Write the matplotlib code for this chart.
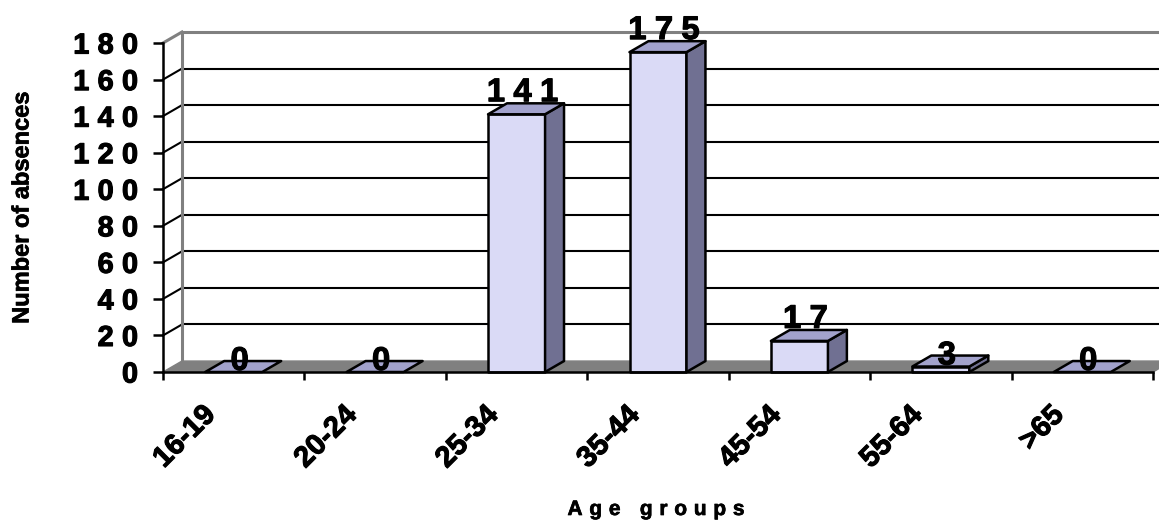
import matplotlib
matplotlib.use('Agg')
import matplotlib.pyplot as plt
import matplotlib.patheffects as pe
from matplotlib.patches import Polygon, Rectangle
from matplotlib import font_manager
from matplotlib.ft2font import FT2Font


# Data
AGE_GROUPS = ['16-19', '20-24', '25-34', '35-44', '45-54', '55-64', '>65']
ABSENCES = [0, 0, 141, 175, 17, 3, 0]
Y_TICKS = [0, 20, 40, 60, 80, 100, 120, 140, 160, 180]
Y_LABEL = 'Number of absences'
X_LABEL = 'Age groups'

# Constants
FONT = 'Liberation Sans'
DX = 0.134      # depth of the 3D effect along x (in categories)
DY = 6.0        # depth of the 3D effect along y (in data units)
BAR_WIDTH = 0.403
FRONT = '#dadaf6'
TOP = '#a2a2cc'
SIDE = '#707092'
FLOOR = '#808080'
GRID_LW = 1.5
EDGE_LW = 1.8
HEAVY = [pe.withStroke(linewidth=0.8, foreground='black')]   # Excel draws bold text a bit heavier
LIGHT = [pe.withStroke(linewidth=0.5, foreground='black')]


# Advance widths (in points) of every character of the text
def advances(text, size):
    path = font_manager.findfont(font_manager.FontProperties(family=FONT, weight='bold'))
    font = FT2Font(path)
    font.set_size(size, 72)
    return [font.load_char(ord(ch)).linearHoriAdvance / 65536 for ch in text]


# Bold text with extra letter spacing (Excel style)
def spaced_text(ax, xy, text, size, track, ha='center', offset=(0, 0), xycoords='data', effects=HEAVY):
    adv = advances(text, size)
    total = sum(adv) + track * (len(text) - 1)
    pos = {'left': 0, 'center': -total / 2, 'right': -total}[ha] + offset[0]
    for ch, a in zip(text, adv):
        if ch != ' ':
            ax.annotate(ch, xy, xycoords=xycoords, xytext=(pos, offset[1]),
                        textcoords='offset points', ha='left', va='baseline',
                        fontsize=size, fontweight='bold', family=FONT,
                        annotation_clip=False, zorder=6, path_effects=effects)
        pos += a + track


# Walls, floor and grid of the 3D box
def draw_box(ax, n):
    for v in Y_TICKS[1:]:
        color = FLOOR if v == Y_TICKS[-1] else 'black'
        lw = 2.2 if v == Y_TICKS[-1] else GRID_LW
        ax.plot([0, DX], [v, v + DY], color=color, lw=lw, clip_on=False, zorder=1)
        ax.plot([DX, n + DX + 0.2], [v + DY, v + DY], color=color, lw=lw, clip_on=False, zorder=1)
    ax.plot([DX, DX], [DY, Y_TICKS[-1] + DY], color=FLOOR, lw=2.2, clip_on=False, zorder=1)
    ax.add_patch(Polygon([(0, 0), (n, 0), (n + DX, DY), (DX, DY)],
                         fc=FLOOR, ec=FLOOR, lw=1, clip_on=False, zorder=1.5))


# A single 3D column
def draw_bar(ax, c, v):
    left, right = c - BAR_WIDTH / 2, c + BAR_WIDTH / 2
    kw = dict(ec='black', lw=EDGE_LW, joinstyle='round', clip_on=False, zorder=3)
    if v > 0:
        ax.add_patch(Rectangle((left, 0), BAR_WIDTH, v, fc=FRONT, **kw))
        ax.add_patch(Polygon([(right, 0), (right + DX, DY), (right + DX, v + DY), (right, v)],
                             fc=SIDE, **kw))
    ax.add_patch(Polygon([(left, v), (right, v), (right + DX, v + DY), (left + DX, v + DY)],
                         fc=TOP, **kw))


def main():
    fig = plt.figure(figsize=(11.59, 5.21), dpi=100)
    ax = fig.add_axes([163 / 1159, 149 / 521, 990 / 1159, 329 / 521])
    ax.patch.set_visible(False)
    n = len(AGE_GROUPS)
    ax.set_xlim(0, n)
    ax.set_ylim(0, Y_TICKS[-1])

    draw_box(ax, n)
    for i, v in enumerate(ABSENCES):
        draw_bar(ax, i + 0.5, v)
        dy = 9.4 if v >= 10 else 1.5
        spaced_text(ax, (i + 0.5, v), str(v), 23.6, 6.0, 'center', offset=(4.3, dy))

    # Axes lines and ticks
    for side in ['top', 'right']:
        ax.spines[side].set_visible(False)
    for side in ['left', 'bottom']:
        ax.spines[side].set_linewidth(EDGE_LW)
        ax.spines[side].set_zorder(5)
    ax.set_xticks(range(n + 1))
    ax.set_yticks(Y_TICKS)
    ax.tick_params(axis='y', direction='out', length=7.2, width=EDGE_LW, labelleft=False)
    ax.tick_params(axis='x', direction='out', length=5.8, width=EDGE_LW, labelbottom=False)

    # Tick labels
    for v in Y_TICKS:
        spaced_text(ax, (0, v), str(v), 20.8, 6.0, 'right', offset=(-18.0, -7.6))
    for i, label in enumerate(AGE_GROUPS):
        ax.annotate(label, (i + 0.5, 0), xytext=(-16.5, -27.7), textcoords='offset points',
                    rotation=45, rotation_mode='anchor', ha='right', va='center',
                    fontsize=21, fontweight='bold', family=FONT, annotation_clip=False,
                    path_effects=HEAVY)

    # Axis titles
    fig.text(22 / 1159, 1 - 207.5 / 521, Y_LABEL, rotation=90, ha='center', va='center',
             fontsize=17, fontweight='bold', family=FONT, path_effects=LIGHT)
    spaced_text(ax, (656 / 1159, 6 / 521), X_LABEL, 15, 4.9, 'center',
                xycoords='figure fraction', effects=LIGHT)

    fig.savefig('out.png', dpi=100)


if __name__ == '__main__':
    main()
